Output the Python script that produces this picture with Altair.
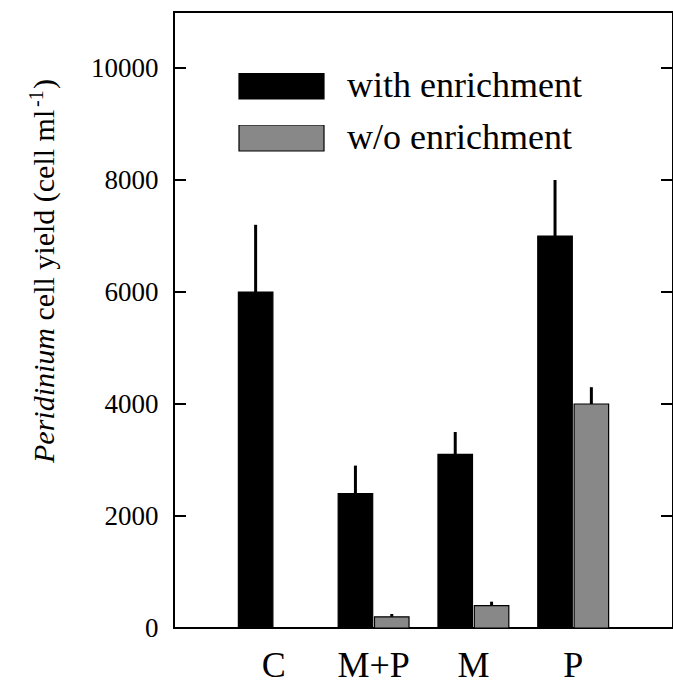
import altair as alt
import pandas as pd

# ---- data ----
treatments = ["C", "M+P", "M", "P"]
series_names = ["with enrichment", "w/o enrichment"]
with_enrich = [6000, 2400, 3100, 7000]
with_err = [1200, 500, 400, 1000]
without_enrich = [None, 200, 400, 4000]
without_err = [None, 50, 70, 300]
y_ticks = [0, 2000, 4000, 6000, 8000, 10000]
bar_colors = ["#000000", "#888888"]

rows = []
for t, v, e in zip(treatments, with_enrich, with_err):
    rows.append({"treatment": t, "series": series_names[0], "value": v, "upper": v + e})
for t, v, e in zip(treatments, without_enrich, without_err):
    if v is not None:
        rows.append({"treatment": t, "series": series_names[1], "value": v, "upper": v + e})
df = pd.DataFrame(rows)
tick_df = pd.DataFrame({"v": y_ticks})

FONT = "Liberation Serif"
W, H = 499, 616

x_enc = alt.X("treatment:N", sort=treatments,
              scale=alt.Scale(paddingInner=0.29, paddingOuter=0.645),
              axis=alt.Axis(title=None, ticks=False, domain=False, labelAngle=0,
                            labelFont=FONT, labelFontSize=36, labelColor="black",
                            labelPadding=20))
xoff_enc = alt.XOffset("series:N", sort=series_names,
                       scale=alt.Scale(domain=series_names, paddingInner=0.05, paddingOuter=0))
y_scale = alt.Scale(domain=[0, 11000], nice=False)

bars = alt.Chart(df).mark_bar(stroke="black", strokeWidth=1.2).encode(
    x=x_enc,
    xOffset=xoff_enc,
    y=alt.Y("value:Q", scale=y_scale,
            axis=alt.Axis(values=y_ticks, format="d", ticks=False, domain=False, grid=False,
                          labelFont=FONT, labelFontSize=27, labelColor="black",
                          labelPadding=16, title=None)),
    color=alt.Color("series:N", sort=series_names,
                    scale=alt.Scale(domain=series_names, range=bar_colors),
                    legend=alt.Legend(title=None, orient="none", legendX=64, legendY=61,
                                      symbolType="M-1,-0.306H1V0.306H-1Z",
                                      symbolSize=7225, clipHeight=26, rowPadding=16,
                                      labelFont=FONT, labelFontSize=36, labelColor="black",
                                      labelOffset=22, labelLimit=400, padding=0,
                                      symbolStrokeColor="black", symbolStrokeWidth=1.2,
                                      symbolOpacity=1)),
)

errs = alt.Chart(df).mark_rule(color="black", strokeWidth=3).encode(
    x=alt.X("treatment:N", sort=treatments),
    xOffset=xoff_enc,
    y=alt.Y("value:Q", scale=y_scale),
    y2="upper:Q",
)

ticks_left = alt.Chart(tick_df).mark_rule(color="black", strokeWidth=2).encode(
    y=alt.Y("v:Q", scale=y_scale), x=alt.value(0), x2=alt.value(12))
ticks_right = alt.Chart(tick_df).mark_rule(color="black", strokeWidth=2).encode(
    y=alt.Y("v:Q", scale=y_scale), x=alt.value(W - 12), x2=alt.value(W))

one = pd.DataFrame({"k": [0]})
t1 = alt.Chart(one).mark_text(angle=270, align="left", baseline="alphabetic",
                              font=FONT, fontSize=30, fontStyle="italic", color="black").encode(
    x=alt.value(-120), y=alt.value(451), text=alt.value("Peridinium"))
t2 = alt.Chart(one).mark_text(angle=270, align="left", baseline="alphabetic",
                              font=FONT, fontSize=30, color="black").encode(
    x=alt.value(-120), y=alt.value(308.5), text=alt.value("cell yield (cell ml"))
t3 = alt.Chart(one).mark_text(angle=270, align="left", baseline="alphabetic",
                              font=FONT, fontSize=20, color="black").encode(
    x=alt.value(-131), y=alt.value(95), text=alt.value("-1"))
t4 = alt.Chart(one).mark_text(angle=270, align="left", baseline="alphabetic",
                              font=FONT, fontSize=30, color="black").encode(
    x=alt.value(-120), y=alt.value(77), text=alt.value(")"))

chart = alt.layer(bars, errs, ticks_left, ticks_right, t1, t2, t3, t4).properties(
    width=W, height=H,
    autosize=alt.AutoSizeParams(type="none"),
    padding={"left": 174, "top": 12, "right": 0, "bottom": 55},
    background="white",
).configure_view(stroke="black", strokeWidth=2)

chart.save("out.html", embed_options={"renderer": "svg", "actions": False})
